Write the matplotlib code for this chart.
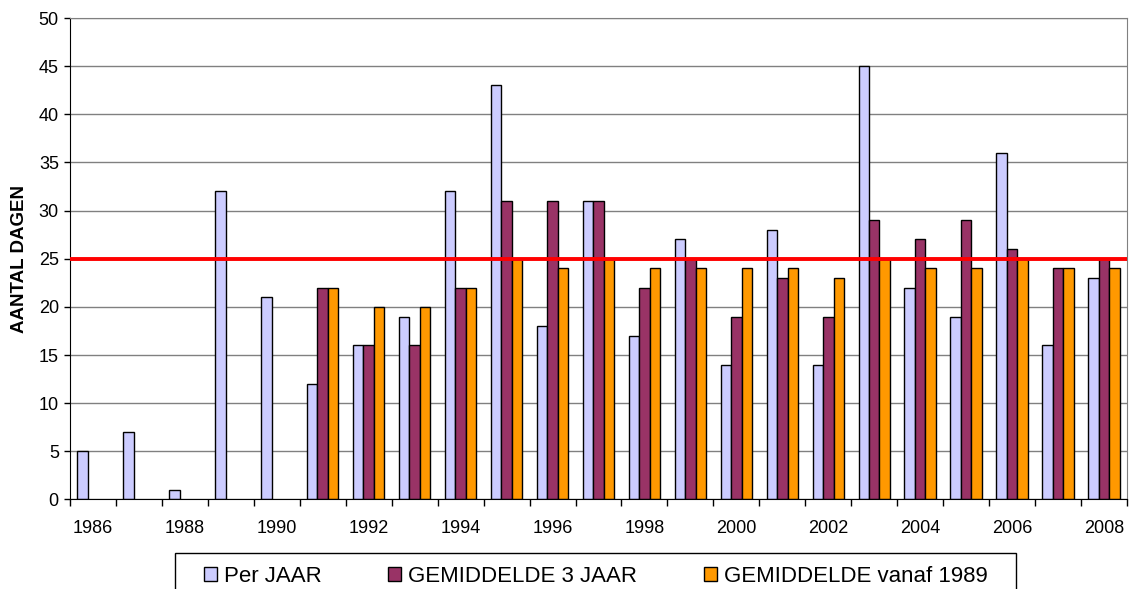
import numpy as np
import matplotlib
matplotlib.use('Agg')
import matplotlib.pyplot as plt
from matplotlib.patches import Rectangle

plt.rcParams['font.family'] = ['Liberation Sans', 'DejaVu Sans']

years = list(range(1986, 2009))
per_jaar = [5, 7, 1, 32, 21, 12, 16, 19, 32, 43, 18, 31, 17, 27, 14, 28, 14, 45, 22, 19, 36, 16, 23]
gem_3_jaar = [0, 0, 0, 0, 0, 22, 16, 16, 22, 31, 31, 31, 22, 25, 19, 23, 19, 29, 27, 29, 26, 24, 25]
gem_vanaf_1989 = [0, 0, 0, 0, 0, 22, 20, 20, 22, 25, 24, 25, 24, 24, 24, 24, 23, 25, 24, 24, 25, 24, 24]
grens = 25

x = np.arange(len(years))
w = 0.228

fig = plt.figure(figsize=(11.32, 5.89), dpi=100)
ax = fig.add_axes([0.0618, 0.152, 0.9338, 0.8174])

def drop_zero(vals):
    return [v if v > 0 else np.nan for v in vals]

ax.bar(x - w, per_jaar, width=w, color='#CCCCFF', edgecolor='black', linewidth=1, label='Per JAAR', zorder=2)
ax.bar(x, drop_zero(gem_3_jaar), width=w, color='#993366', edgecolor='black', linewidth=1, label='GEMIDDELDE 3 JAAR', zorder=2)
ax.bar(x + w, drop_zero(gem_vanaf_1989), width=w, color='#FF9900', edgecolor='black', linewidth=1, label='GEMIDDELDE vanaf 1989', zorder=2)
ax.axhline(grens, color='#FF0000', linewidth=2.8, zorder=3)

ax.set_xlim(-0.5, len(years) - 0.5)
ax.set_ylim(0, 50)
ax.set_yticks(range(0, 51, 5))
ax.yaxis.grid(True, color='#808080', linewidth=1, zorder=0)
ax.set_axisbelow(True)

# category boundaries as ticks, labels on every other year
ax.set_xticks(np.arange(-0.5, len(years), 1))
ax.set_xticklabels([])
ax.set_xticks(x[::2], minor=True)
ax.set_xticklabels([str(y) for y in years[::2]], minor=True)
ax.tick_params(axis='x', which='major', length=5, width=1, color='black', direction='out')
ax.tick_params(axis='x', which='minor', length=0, pad=15, labelsize=13)
ax.tick_params(axis='y', length=4, width=1, color='black', direction='out', pad=4, labelsize=13)

ax.spines['left'].set_color('black')
ax.spines['bottom'].set_color('black')
ax.spines['top'].set_color('#808080')
ax.spines['right'].set_color('#808080')

ax.set_ylabel('AANTAL DAGEN', fontsize=13.5, fontweight='bold')
ax.yaxis.set_label_coords(-0.040, 0.5)

leg = fig.legend(loc='upper center', bbox_to_anchor=(0.526, 1 - 566 / 589), bbox_transform=fig.transFigure,
                 ncol=3, fontsize=16, frameon=False,
                 handlelength=0.6, handleheight=0.6, handletextpad=0.3, columnspacing=3.0,
                 borderpad=0, borderaxespad=0)

# legend box (runs past the bottom edge as in the original)
fig.patches.append(Rectangle((175 / 1132, -0.1), (1016 - 175) / 1132, 0.1 + 1 - 553 / 589,
                             transform=fig.transFigure, fill=False, edgecolor='black', linewidth=1))

fig.savefig('out.png', dpi=100)
